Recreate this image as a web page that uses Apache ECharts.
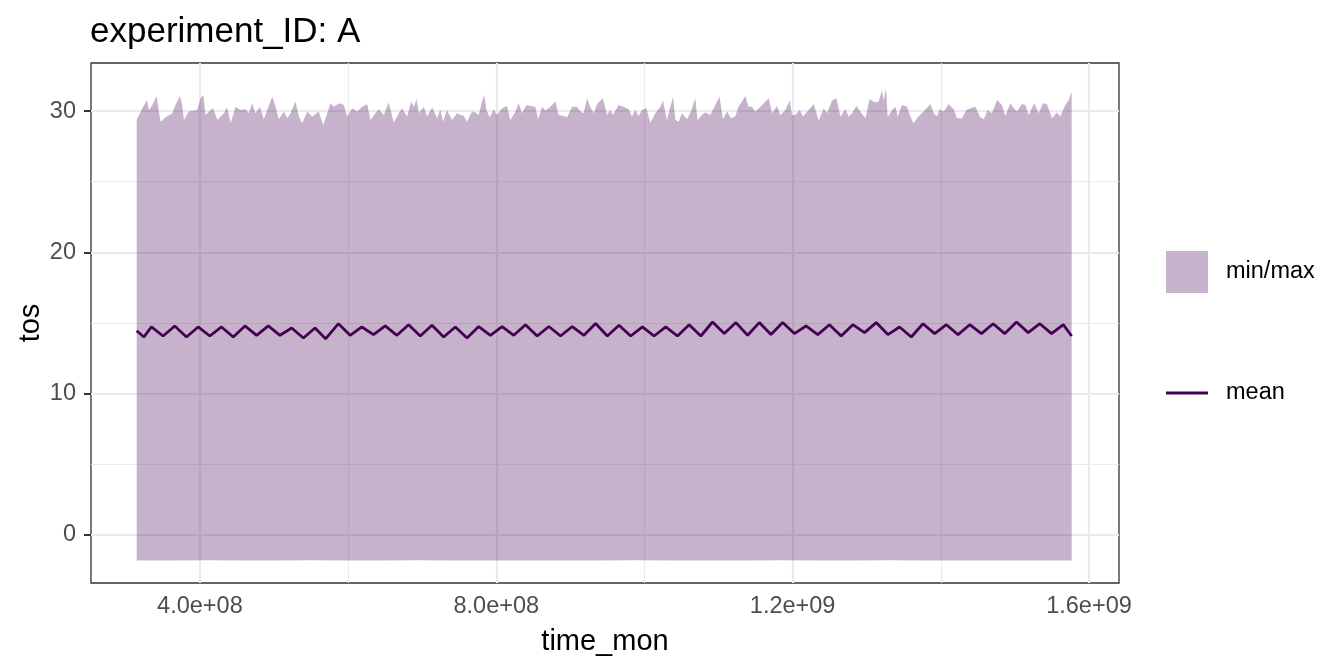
<!DOCTYPE html>
<html><head><meta charset="utf-8">
<script src="https://cdn.jsdelivr.net/npm/echarts@6/dist/echarts.min.js"></script>
<style>html,body{margin:0;padding:0;background:#fff}#c{width:1344px;height:672px}</style>
</head><body><div id="c"></div>
<script>
// ---- data (time in decimal years, converted to seconds since 1970 = time_mon) ----
const maxYear = [
 1979.97,1980.25,1980.42,1980.49,1980.64,1980.82,1980.99,1981.21,1981.49,1981.63,
 1981.82,1981.92,1981.99,1982.20,1982.56,1982.70,1982.82,1982.92,1983.13,1983.24,
 1983.42,1983.70,1983.84,1983.99,1984.20,1984.41,1984.63,1984.77,1984.91,1985.05,
 1985.24,1985.41,1985.55,1985.77,1985.91,1986.05,1986.27,1986.41,1986.55,1986.76,
 1986.91,1987.05,1987.26,1987.48,1987.76,1987.95,1988.12,1988.26,1988.40,1988.62,
 1988.83,1988.97,1989.19,1989.40,1989.61,1989.83,1989.97,1990.18,1990.33,1990.54,
 1990.75,1990.97,1991.18,1991.32,1991.54,1991.71,1991.82,1991.94,1992.04,1992.25,
 1992.39,1992.61,1992.82,1992.96,1993.07,1993.24,1993.46,1993.67,1993.82,1993.96,
 1994.10,1994.31,1994.46,1994.60,1994.74,1994.84,1994.93,1995.07,1995.24,1995.38,
 1995.60,1995.81,1995.95,1996.17,1996.31,1996.45,1996.64,1996.81,1997.02,1997.14,
 1997.31,1997.45,1997.66,1997.88,1998.02,1998.23,1998.38,1998.59,1998.80,1998.95,
 1999.09,1999.23,1999.37,1999.52,1999.66,1999.91,2000.09,2000.23,2000.34,2000.58,
 2000.80,2001.01,2001.15,2001.30,2001.44,2001.58,2001.77,2001.94,2002.15,2002.37,
 2002.48,2002.65,2002.91,2003.01,2003.15,2003.29,2003.51,2003.68,2003.86,2003.96,
 2004.15,2004.29,2004.50,2004.72,2004.90,2005.04,2005.22,2005.39,2005.57,2005.71,
 2005.86,2006.00,2006.14,2006.28,2006.43,2006.65,2006.79,2007.00,2007.15,2007.36,
 2007.50,2007.72,2007.90,2008.00,2008.14,2008.33,2008.47,2008.71,2008.93,2009.14,
 2009.35,2009.50,2009.71,2009.90,2010.07,2010.28,2010.42,2010.57,2010.75,2010.92,
 2011.14,2011.32,2011.56,2011.71,2011.85,2011.92,2012.02,2012.09,2012.28,2012.42,
 2012.52,2012.70,2012.92,2013.06,2013.20,2013.42,2013.63,2013.92,2014.06,2014.20,
 2014.31,2014.49,2014.70,2014.91,2015.06,2015.27,2015.45,2015.63,2015.84,2016.05,
 2016.20,2016.37,2016.55,2016.77,2016.98,2017.12,2017.34,2017.48,2017.62,2017.83,
 2017.98,2018.12,2018.36,2018.55,2018.73,2018.90,2019.12,2019.33,2019.47,2019.69,
 2019.83,2019.96
];
const maxVal = [
 29.40,30.31,30.78,30.08,30.43,31.07,29.25,29.56,29.84,30.43,
 31.07,30.43,29.37,29.96,30.08,30.90,31.14,29.72,30.08,30.19,
 29.37,29.84,30.27,29.13,30.31,30.08,30.12,29.84,30.55,29.84,
 30.31,29.42,30.08,31.02,30.31,29.42,29.96,29.49,29.84,30.67,
 29.61,29.13,29.96,29.61,29.96,29.02,29.84,30.55,30.31,30.55,
 30.43,29.61,30.19,29.96,30.31,30.50,29.37,29.84,30.12,29.72,
 30.60,29.18,29.84,30.19,29.61,30.67,30.31,30.83,29.84,30.31,
 29.61,30.27,29.49,30.12,29.25,30.08,29.37,29.84,29.72,29.65,
 29.25,29.96,29.89,29.72,30.67,31.14,30.08,29.56,30.12,29.72,
 30.19,30.36,29.37,29.96,30.55,29.84,30.43,30.36,30.31,29.42,
 30.31,30.03,30.31,30.67,29.72,29.65,29.56,30.31,30.31,29.96,
 29.84,30.90,30.31,29.84,30.50,30.90,29.72,30.08,29.72,30.43,
 30.31,30.12,29.61,30.08,29.65,30.08,30.19,29.18,29.84,30.31,
 30.74,29.37,31.02,29.37,29.25,29.84,29.42,29.96,30.90,29.37,
 29.72,29.89,29.72,30.43,31.02,29.42,29.96,29.49,29.61,30.31,
 30.67,31.07,30.31,30.31,29.96,30.31,30.55,30.90,29.84,30.36,
 29.72,30.08,30.74,29.72,29.72,30.08,29.61,30.08,30.50,29.32,
 30.19,29.84,30.74,30.90,29.61,30.12,29.61,29.84,30.36,29.96,
 29.49,30.83,30.60,30.67,31.49,30.74,31.61,29.56,30.08,30.31,
 29.61,30.43,30.31,29.61,29.13,29.65,29.96,30.50,29.84,29.61,
 30.12,29.96,30.50,30.12,29.49,29.49,30.08,30.19,30.31,29.56,
 29.42,30.08,29.84,30.78,30.43,29.65,30.55,30.19,29.96,30.50,
 30.43,29.72,30.55,29.84,30.55,30.50,29.49,29.89,29.61,30.43,
 30.78,31.37
];
const minYear = [
 1979.97,1981.50,1983.00,1984.60,1986.00,1987.40,1988.90,1990.50,1992.00,1993.60,
 1995.10,1996.70,1998.20,1999.80,2001.30,2002.90,2004.50,2006.00,2007.60,2009.10,
 2010.70,2012.20,2013.80,2015.30,2016.90,2018.40,2019.96
];
const minVal = [
 -1.80,-1.81,-1.79,-1.81,-1.80,-1.79,-1.81,-1.80,-1.79,-1.80,
 -1.81,-1.80,-1.80,-1.81,-1.79,-1.80,-1.81,-1.80,-1.79,-1.80,
 -1.81,-1.79,-1.80,-1.81,-1.80,-1.80,-1.80
];
const meanYear = [
 1979.97,1980.28,1980.60,1981.10,1981.60,1982.10,1982.60,1983.10,1983.60,1984.10,
 1984.60,1985.10,1985.60,1986.10,1986.60,1987.10,1987.60,1988.05,1988.60,1989.10,
 1989.60,1990.10,1990.60,1991.10,1991.60,1992.10,1992.60,1993.10,1993.60,1994.10,
 1994.60,1995.10,1995.60,1996.10,1996.60,1997.10,1997.60,1998.10,1998.60,1999.10,
 1999.60,2000.10,2000.60,2001.10,2001.60,2002.10,2002.60,2003.10,2003.60,2004.10,
 2004.60,2005.10,2005.60,2006.10,2006.60,2007.10,2007.60,2008.10,2008.60,2009.10,
 2009.60,2010.10,2010.60,2011.10,2011.60,2012.10,2012.60,2013.10,2013.60,2014.10,
 2014.60,2015.10,2015.60,2016.10,2016.60,2017.10,2017.60,2018.10,2018.60,2019.10,
 2019.60,2019.96
];
const meanVal = [
 14.45,14.01,14.72,14.08,14.79,14.01,14.72,14.08,14.72,14.01,
 14.79,14.13,14.79,14.13,14.65,13.94,14.65,13.88,14.95,14.13,
 14.72,14.18,14.79,14.13,14.88,14.08,14.84,14.01,14.72,13.94,
 14.75,14.13,14.75,14.13,14.88,14.08,14.75,14.08,14.75,14.13,
 14.97,14.08,14.84,14.08,14.72,14.08,14.72,14.08,14.88,14.08,
 15.07,14.25,15.03,14.13,15.03,14.18,15.03,14.25,14.79,14.18,
 14.88,14.08,14.88,14.32,15.03,14.18,14.72,14.01,14.95,14.25,
 14.88,14.18,14.88,14.25,14.95,14.25,15.07,14.32,14.95,14.25,
 14.88,14.08
];
const xTicks = [4e8, 8e8, 1.2e9, 1.6e9];
const xMinor = [6e8, 1.0e9, 1.4e9];
const yTicks = [0, 10, 20, 30];
const yMinor = [5, 15, 25];

// ---- helpers ----
const SEC_PER_YEAR = 31557600;
function sec(y) { return (y - 1970) * SEC_PER_YEAR; }
function fmtSci(v) {
  return v.toExponential(1).replace(/e([+-])(\d)$/, function (m, s, d) { return 'e' + s + '0' + d; });
}
const FONT = '"Liberation Sans", Arial, sans-serif';
const RIBBON = 'rgba(68,1,84,0.3)';
const LINE = '#440154';
const GRIDC = '#EBEBEB';

const ribbonData = maxYear.map(function (y, i) { return [sec(y), maxVal[i]]; });
const meanData = meanYear.map(function (y, i) { return [sec(y), meanVal[i]]; });

const gridLines = []
  .concat(xTicks.map(function (v) { return { xAxis: v, lineStyle: { color: GRIDC, width: 2.2, type: 'solid' } }; }))
  .concat(xMinor.map(function (v) { return { xAxis: v, lineStyle: { color: GRIDC, width: 1.1, type: 'solid' } }; }))
  .concat(yTicks.map(function (v) { return { yAxis: v, lineStyle: { color: GRIDC, width: 2.2, type: 'solid' } }; }))
  .concat(yMinor.map(function (v) { return { yAxis: v, lineStyle: { color: GRIDC, width: 1.1, type: 'solid' } }; }));

const chart = echarts.init(document.getElementById('c'), null, { renderer: 'canvas' });
chart.setOption({
  animation: false,
  backgroundColor: '#fff',
  title: {
    text: 'experiment_ID: A', left: 90, top: 15, padding: 0,
    textStyle: { fontSize: 35, fontWeight: 'normal', color: '#000', fontFamily: FONT }
  },
  legend: {
    orient: 'vertical', left: 1166, top: 251, padding: 0,
    itemWidth: 42, itemHeight: 42, itemGap: 88,
    selectedMode: false,
    data: [
      { name: 'min/max', icon: 'rect', itemStyle: { color: RIBBON, borderWidth: 0 } },
      { name: 'mean', icon: 'path://M0,0H38V2.5H0Z', itemStyle: { color: LINE, borderWidth: 0 } }
    ],
    textStyle: { fontSize: 23.5, color: '#000', fontFamily: FONT, padding: [0, 0, 0, 13] }
  },
  grid: {
    left: 91, right: 225, top: 63, bottom: 89, show: true,
    borderColor: '#333333', borderWidth: 1.3, backgroundColor: '#fff',
    containLabel: false, outerBoundsMode: 'none'
  },
  xAxis: {
    type: 'value', min: 2.53e8, max: 1.6405e9,
    name: 'time_mon', nameLocation: 'middle', nameGap: 44, nameMoveOverlap: false,
    nameTextStyle: { fontSize: 29, color: '#000', fontFamily: FONT },
    axisLine: { show: false },
    axisTick: { show: true, customValues: xTicks, length: 7, lineStyle: { color: '#333333', width: 2 } },
    axisLabel: { customValues: xTicks, formatter: fmtSci, margin: 12, fontSize: 23.5, color: '#4D4D4D', fontFamily: FONT },
    splitLine: { show: false }
  },
  yAxis: {
    type: 'value', min: -3.4, max: 33.4,
    name: 'tos', nameLocation: 'middle', nameGap: 46, nameMoveOverlap: false,
    nameTextStyle: { fontSize: 29, color: '#000', fontFamily: FONT },
    axisLine: { show: false },
    axisTick: { show: true, customValues: yTicks, length: 7, lineStyle: { color: '#333333', width: 2 } },
    axisLabel: { customValues: yTicks, margin: 15, fontSize: 23.5, color: '#4D4D4D', fontFamily: FONT },
    splitLine: { show: false }
  },
  series: [
    {
      type: 'line', name: 'grid', data: [], z: 1, silent: true, symbol: 'none',
      markLine: { silent: true, symbol: 'none', z: 1, animation: false, label: { show: false },
        emphasis: { disabled: true }, data: gridLines }
    },
    {
      type: 'custom', name: 'min/max', z: 2, silent: true,
      itemStyle: { color: RIBBON },
      data: ribbonData, encode: { x: 0, y: 1 },
      renderItem: function (params, api) {
        if (params.dataIndex !== 0) return null;
        const pts = [];
        for (let i = 0; i < maxYear.length; i++) pts.push(api.coord([sec(maxYear[i]), maxVal[i]]));
        for (let i = minYear.length - 1; i >= 0; i--) pts.push(api.coord([sec(minYear[i]), minVal[i]]));
        return { type: 'polygon', shape: { points: pts }, style: { fill: RIBBON } };
      }
    },
    {
      type: 'line', name: 'mean', data: meanData, z: 3, silent: true,
      symbol: 'none', itemStyle: { color: LINE },
      lineStyle: { color: LINE, width: 2.8 }
    }
  ]
});
</script></body></html>
